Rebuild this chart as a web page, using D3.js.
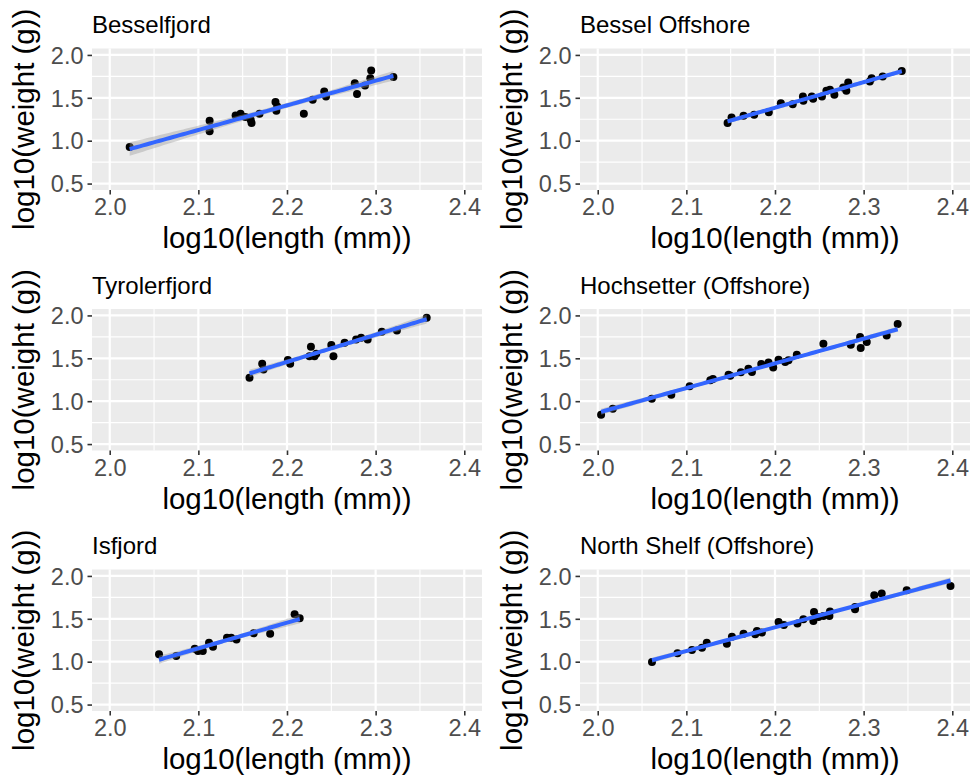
<!DOCTYPE html>
<html>
<head>
<meta charset="utf-8">
<script src="https://cdn.jsdelivr.net/npm/d3@7"></script>
<style>
  body { margin: 0; background: #fff; }
  svg text { font-family: "Liberation Sans", Arial, Helvetica, sans-serif; }
</style>
</head>
<body>
<svg id="chart" width="974" height="780"></svg>
<script>
// ---- data (log10 length mm, log10 weight g) ----
const panelTitles = ["Besselfjord", "Bessel Offshore", "Tyrolerfjord", "Hochsetter (Offshore)", "Isfjord", "North Shelf (Offshore)"];

const besselfjordX = [2.0225, 2.1127, 2.1127, 2.142, 2.1476, 2.153, 2.160, 2.159, 2.169, 2.187, 2.188, 2.189, 2.219, 2.229, 2.242, 2.244, 2.2765, 2.279, 2.288, 2.294, 2.295, 2.320];
const besselfjordY = [0.926, 1.233, 1.109, 1.295, 1.314, 1.275, 1.205, 1.244, 1.314, 1.450, 1.349, 1.400, 1.314, 1.477, 1.574, 1.516, 1.671, 1.543, 1.643, 1.729, 1.818, 1.744];

const besselOffX = [2.1465, 2.151, 2.1645, 2.1765, 2.193, 2.2066, 2.220, 2.232, 2.2315, 2.2415, 2.243, 2.253, 2.258, 2.262, 2.267, 2.277, 2.2805, 2.2826, 2.307, 2.309, 2.3215, 2.343];
const besselOffY = [1.205, 1.271, 1.291, 1.302, 1.333, 1.438, 1.426, 1.465, 1.516, 1.516, 1.488, 1.516, 1.581, 1.593, 1.535, 1.620, 1.581, 1.678, 1.690, 1.729, 1.748, 1.814];

const tyrolerX = [2.1577, 2.172, 2.1735, 2.201, 2.2036, 2.227, 2.2254, 2.231, 2.233, 2.250, 2.2524, 2.265, 2.278, 2.2836, 2.291, 2.307, 2.324, 2.3576];
const tyrolerY = [1.272, 1.436, 1.370, 1.479, 1.436, 1.634, 1.525, 1.525, 1.553, 1.654, 1.525, 1.681, 1.720, 1.739, 1.720, 1.809, 1.825, 1.973];

const hochsetterX = [2.0038, 2.017, 2.061, 2.083, 2.1037, 2.127, 2.130, 2.1476, 2.1495, 2.1615, 2.170, 2.174, 2.1845, 2.1927, 2.198, 2.204, 2.2115, 2.2152, 2.2246, 2.2546, 2.2855, 2.296, 2.2967, 2.3035, 2.326, 2.3384];
const hochsetterY = [0.843, 0.913, 1.029, 1.076, 1.173, 1.243, 1.258, 1.309, 1.297, 1.336, 1.379, 1.340, 1.433, 1.452, 1.394, 1.483, 1.456, 1.476, 1.542, 1.670, 1.658, 1.748, 1.619, 1.689, 1.767, 1.899];

const isfjordX = [2.0556, 2.075, 2.0959, 2.0996, 2.105, 2.112, 2.1165, 2.1323, 2.137, 2.143, 2.1624, 2.181, 2.2086, 2.2143];
const isfjordY = [1.086, 1.066, 1.152, 1.125, 1.125, 1.222, 1.175, 1.280, 1.280, 1.260, 1.331, 1.327, 1.553, 1.506];

const northShelfX = [2.0612, 2.090, 2.1063, 2.1176, 2.123, 2.1457, 2.1514, 2.1645, 2.1777, 2.1796, 2.1852, 2.204, 2.210, 2.2253, 2.232, 2.244, 2.2433, 2.249, 2.2546, 2.262, 2.2614, 2.2903, 2.2903, 2.312, 2.3204, 2.3486, 2.398];
const northShelfY = [0.996, 1.097, 1.136, 1.163, 1.222, 1.210, 1.292, 1.327, 1.319, 1.358, 1.339, 1.463, 1.428, 1.444, 1.494, 1.580, 1.475, 1.521, 1.533, 1.584, 1.533, 1.638, 1.611, 1.774, 1.794, 1.833, 1.883];

const xTicks = [2.0, 2.1, 2.2, 2.3, 2.4];
const yTicks = [0.5, 1.0, 1.5, 2.0];
const xLimits = [2.0, 2.4];
const yLimits = [0.5, 2.0];
const xTitle = "log10(length (mm))";
const yTitle = "log10(weight (g))";

const panels = [
  {title: panelTitles[0], xs: besselfjordX, ys: besselfjordY},
  {title: panelTitles[1], xs: besselOffX, ys: besselOffY},
  {title: panelTitles[2], xs: tyrolerX, ys: tyrolerY},
  {title: panelTitles[3], xs: hochsetterX, ys: hochsetterY},
  {title: panelTitles[4], xs: isfjordX, ys: isfjordY},
  {title: panelTitles[5], xs: northShelfX, ys: northShelfY}
];

// ---- layout ----
const svg = d3.select("#chart");
const colOffset = 488, rowOffset = 260.5;
const plotL = 92, plotR = 482, plotT = 48.5, plotB = 190;

function expand(lim, mult) { const d = (lim[1] - lim[0]) * mult; return [lim[0] - d, lim[1] + d]; }

function tQuantile(df) {
  const z = 1.959964;
  return z + (z**3 + z) / (4 * df) + (5 * z**5 + 16 * z**3 + 3 * z) / (96 * df * df)
    + (3 * z**7 + 19 * z**5 + 17 * z**3 - 15 * z) / (384 * df**3);
}

panels.forEach((p, i) => {
  const col = i % 2, row = Math.floor(i / 2);
  const g = svg.append("g").attr("transform", `translate(${col * colOffset},${row * rowOffset})`);

  const x = d3.scaleLinear().domain(expand(xLimits, 0.05)).range([plotL, plotR]);
  const y = d3.scaleLinear().domain(expand(yLimits, 0.05)).range([plotB, plotT]);

  // panel background
  g.append("rect").attr("x", plotL).attr("y", plotT).attr("width", plotR - plotL).attr("height", plotB - plotT).attr("fill", "#EBEBEB");

  // minor grid
  const xMinor = xTicks.slice(0, -1).map((t, k) => (t + xTicks[k + 1]) / 2);
  const yMinor = yTicks.slice(0, -1).map((t, k) => (t + yTicks[k + 1]) / 2);
  g.selectAll(".xminor").data(xMinor).enter().append("line")
    .attr("x1", d => x(d)).attr("x2", d => x(d)).attr("y1", plotT).attr("y2", plotB)
    .attr("stroke", "#fff").attr("stroke-width", 1.1);
  g.selectAll(".yminor").data(yMinor).enter().append("line")
    .attr("y1", d => y(d)).attr("y2", d => y(d)).attr("x1", plotL).attr("x2", plotR)
    .attr("stroke", "#fff").attr("stroke-width", 1.1);
  // major grid
  g.selectAll(".xmajor").data(xTicks).enter().append("line")
    .attr("x1", d => x(d)).attr("x2", d => x(d)).attr("y1", plotT).attr("y2", plotB)
    .attr("stroke", "#fff").attr("stroke-width", 2.2);
  g.selectAll(".ymajor").data(yTicks).enter().append("line")
    .attr("y1", d => y(d)).attr("y2", d => y(d)).attr("x1", plotL).attr("x2", plotR)
    .attr("stroke", "#fff").attr("stroke-width", 2.2);

  // axes
  const xAxis = d3.axisBottom(x).tickValues(xTicks).tickFormat(d3.format(".1f")).tickSize(4.5).tickPadding(4);
  const yAxis = d3.axisLeft(y).tickValues(yTicks).tickFormat(d3.format(".1f")).tickSize(4.5).tickPadding(4);
  const gx = g.append("g").attr("transform", `translate(0,${plotB})`).call(xAxis);
  const gy = g.append("g").attr("transform", `translate(${plotL},0)`).call(yAxis);
  [gx, gy].forEach(a => {
    a.select(".domain").remove();
    a.selectAll(".tick line").attr("stroke", "#333333").attr("stroke-width", 1.6);
    a.selectAll(".tick text").attr("fill", "#4D4D4D").style("font-size", "23.5px");
  });
  gx.selectAll(".tick text").attr("dy", "0.71em");
  gy.selectAll(".tick text").attr("dy", "0.35em");

  // regression + SE band
  const n = p.xs.length;
  const mx = d3.mean(p.xs), my = d3.mean(p.ys);
  let sxx = 0, sxy = 0;
  for (let k = 0; k < n; k++) { sxx += (p.xs[k] - mx) ** 2; sxy += (p.xs[k] - mx) * (p.ys[k] - my); }
  const b = sxy / sxx, a0 = my - b * mx;
  let sse = 0;
  for (let k = 0; k < n; k++) sse += (p.ys[k] - (a0 + b * p.xs[k])) ** 2;
  const s = Math.sqrt(sse / (n - 2));
  const tq = tQuantile(n - 2);
  const [xmin, xmax] = d3.extent(p.xs);
  const grid = d3.range(80).map(k => xmin + (xmax - xmin) * k / 79);
  const band = grid.map(xv => {
    const fit = a0 + b * xv;
    const se = s * Math.sqrt(1 / n + (xv - mx) ** 2 / sxx);
    return {x: xv, lo: fit - tq * se, hi: fit + tq * se, fit: fit};
  });

  // points
  g.selectAll(".pt").data(p.xs.map((xv, k) => [xv, p.ys[k]])).enter().append("circle")
    .attr("cx", d => x(d[0])).attr("cy", d => y(d[1])).attr("r", 4).attr("fill", "#000");

  g.append("path").datum(band)
    .attr("d", d3.area().x(d => x(d.x)).y0(d => y(d.lo)).y1(d => y(d.hi)))
    .attr("fill", "#999999").attr("fill-opacity", 0.4);
  g.append("path").datum(band)
    .attr("d", d3.line().x(d => x(d.x)).y(d => y(d.fit)))
    .attr("fill", "none").attr("stroke", "#3366FF").attr("stroke-width", 4);

  // titles
  g.append("text").attr("x", plotL).attr("y", 33).attr("fill", "#000").style("font-size", "24px").text(p.title);
  g.append("text").attr("x", (plotL + plotR) / 2).attr("y", 248).attr("text-anchor", "middle")
    .attr("fill", "#000").style("font-size", "29.5px").text(xTitle);
  g.append("text").attr("transform", `translate(34,${(plotT + plotB) / 2}) rotate(-90)`).attr("text-anchor", "middle")
    .attr("fill", "#000").style("font-size", "29.5px").text(yTitle);
});
</script>
</body>
</html>
